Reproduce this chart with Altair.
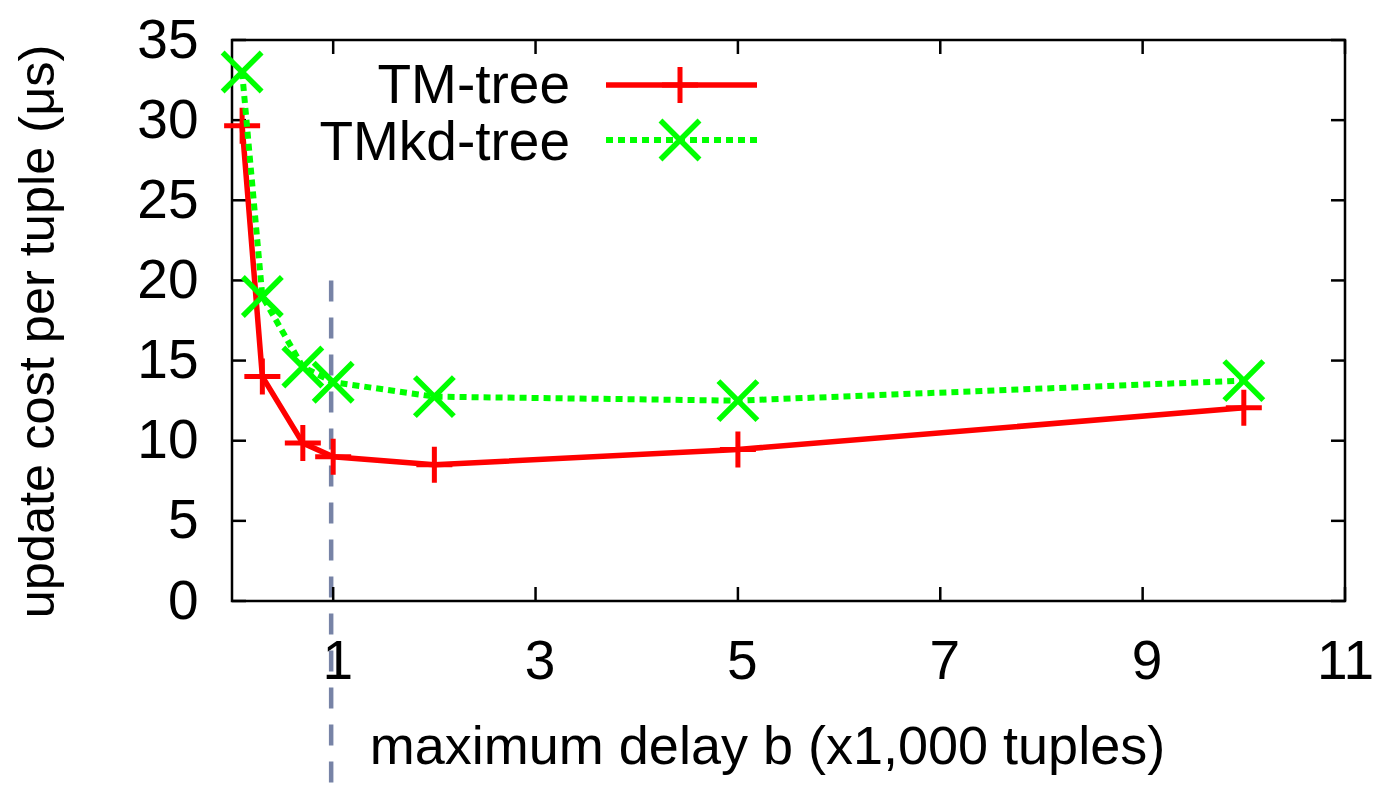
import altair as alt
import pandas as pd

# ---- data ----
delay_k = [0.1, 0.3, 0.7, 1.0, 2, 5, 10]
tm_tree = [29.65, 14.0, 9.85, 9.0, 8.5, 9.45, 12.05]
tmkd_tree = [33.0, 19.0, 14.6, 13.65, 12.75, 12.5, 13.75]
series_names = ["TM-tree", "TMkd-tree"]

x_tick_values = [1, 3, 5, 7, 9, 11]
y_tick_values = [0, 5, 10, 15, 20, 25, 30, 35]

marker_x = [0.98, 0.98]
marker_y = [20, -11.6]

x_title = "maximum delay b (x1,000 tuples)"
y_title = "update cost per tuple (\u03bcs)"

FONT = "Liberation Sans"
W, H = 1113, 561
RED = "#ff0000"
GREEN = "#00ff00"
GREY = "#7783a6"
PLUS = "M-1,0L1,0M0,-1L0,1"
CROSS = "M-1,-1L1,1M-1,1L1,-1"

tm_df = pd.DataFrame({"x": delay_k, "y": tm_tree})
tmkd_df = pd.DataFrame({"x": delay_k, "y": tmkd_tree})
ref_df = pd.DataFrame({"x": marker_x, "y": marker_y})
xt_df = pd.DataFrame({"x": x_tick_values})
yt_df = pd.DataFrame({"y": y_tick_values})
one = pd.DataFrame({"label": [series_names[0]]})
two = pd.DataFrame({"label": [series_names[1]]})


def X():
    return alt.X(
        "x:Q",
        scale=alt.Scale(domain=[0, 11], nice=False, zero=False),
        axis=alt.Axis(
            values=x_tick_values, grid=False, domain=False, ticks=False, tickSize=0,
            labelFontSize=55, labelFont=FONT, labelColor="black",
            labelPadding=77, labelBaseline="alphabetic",
            labelOffset={"condition": {"test": "datum.value === 11", "value": 0}, "value": 4},
            labelFlush=False, labelOverlap=False,
            title=x_title, titleFont=FONT, titleFontSize=54, titleFontWeight="normal",
            titleColor="black", titleX=535, titleY=162, titleAlign="center",
            titleBaseline="alphabetic",
        ),
    )


def Y():
    return alt.Y(
        "y:Q",
        scale=alt.Scale(domain=[0, 35], nice=False, zero=False),
        axis=alt.Axis(
            values=y_tick_values, grid=False, domain=False, ticks=False, tickSize=0,
            labelFontSize=55, labelFont=FONT, labelColor="black",
            labelPadding=34, labelBaseline="middle", labelFlush=False,
            labelOverlap=False,
            title=y_title, titleFont=FONT, titleFontSize=50.5, titleFontWeight="normal",
            titleColor="black", titleX=-179, titleY=291, titleAngle=270,
            titleAlign="center", titleBaseline="alphabetic",
        ),
    )


ref_line = alt.Chart(ref_df).mark_line(
    color=GREY, strokeWidth=4.5, strokeDash=[21, 16], clip=False
).encode(x=X(), y=Y())

tm_line = alt.Chart(tm_df).mark_line(color=RED, strokeWidth=5.5).encode(x=X(), y=Y())
tm_pts = alt.Chart(tm_df).mark_point(
    shape=PLUS, size=1296, filled=False, stroke=RED, strokeWidth=5, opacity=1
).encode(x=X(), y=Y())

tmkd_line = alt.Chart(tmkd_df).mark_line(
    color=GREEN, strokeWidth=6, strokeDash=[7, 5]
).encode(x=X(), y=Y())
tmkd_pts = alt.Chart(tmkd_df).mark_point(
    shape=CROSS, size=1521, filled=False, stroke=GREEN, strokeWidth=5.5, opacity=1
).encode(x=X(), y=Y())

# inward ticks (mirrored on all four sides)
tk = dict(size=14, thickness=2.5, color="black", opacity=1)
xt_bottom = alt.Chart(xt_df).mark_tick(**tk).encode(x=X(), y=alt.value(H - 7))
xt_top = alt.Chart(xt_df).mark_tick(**tk).encode(x=X(), y=alt.value(7))
yt_left = alt.Chart(yt_df).mark_tick(**tk).encode(y=Y(), x=alt.value(7))
yt_right = alt.Chart(yt_df).mark_tick(**tk).encode(y=Y(), x=alt.value(W - 7))

# legend (gnuplot style key)
leg_txt1 = alt.Chart(one).mark_text(
    font=FONT, fontSize=55, align="right", baseline="alphabetic", color="black"
).encode(text="label:N", x=alt.value(338), y=alt.value(63))
leg_txt2 = alt.Chart(two).mark_text(
    font=FONT, fontSize=55, align="right", baseline="alphabetic", color="black"
).encode(text="label:N", x=alt.value(338), y=alt.value(120))
leg_line1 = alt.Chart(one).mark_rule(color=RED, strokeWidth=5.5).encode(
    x=alt.value(374), x2=alt.value(525), y=alt.value(45)
)
leg_line2 = alt.Chart(two).mark_rule(color=GREEN, strokeWidth=6, strokeDash=[7, 5]).encode(
    x=alt.value(374), x2=alt.value(525), y=alt.value(100)
)
leg_pt1 = alt.Chart(one).mark_point(
    shape=PLUS, size=1296, filled=False, stroke=RED, strokeWidth=5, opacity=1
).encode(x=alt.value(448), y=alt.value(45))
leg_pt2 = alt.Chart(two).mark_point(
    shape=CROSS, size=1521, filled=False, stroke=GREEN, strokeWidth=5.5, opacity=1
).encode(x=alt.value(448), y=alt.value(100))

chart = alt.layer(
    ref_line, xt_bottom, xt_top, yt_left, yt_right,
    tm_line, tm_pts, tmkd_line, tmkd_pts,
    leg_txt1, leg_txt2, leg_line1, leg_line2, leg_pt1, leg_pt2,
).properties(
    width=W, height=H,
    autosize=alt.AutoSizeParams(type="none"),
    padding={"left": 224, "top": 32, "right": 30, "bottom": 190},
).configure(background="white").configure_view(stroke="black", strokeWidth=2.5)

chart.save("out.html", embed_options={"renderer": "svg", "actions": False})
